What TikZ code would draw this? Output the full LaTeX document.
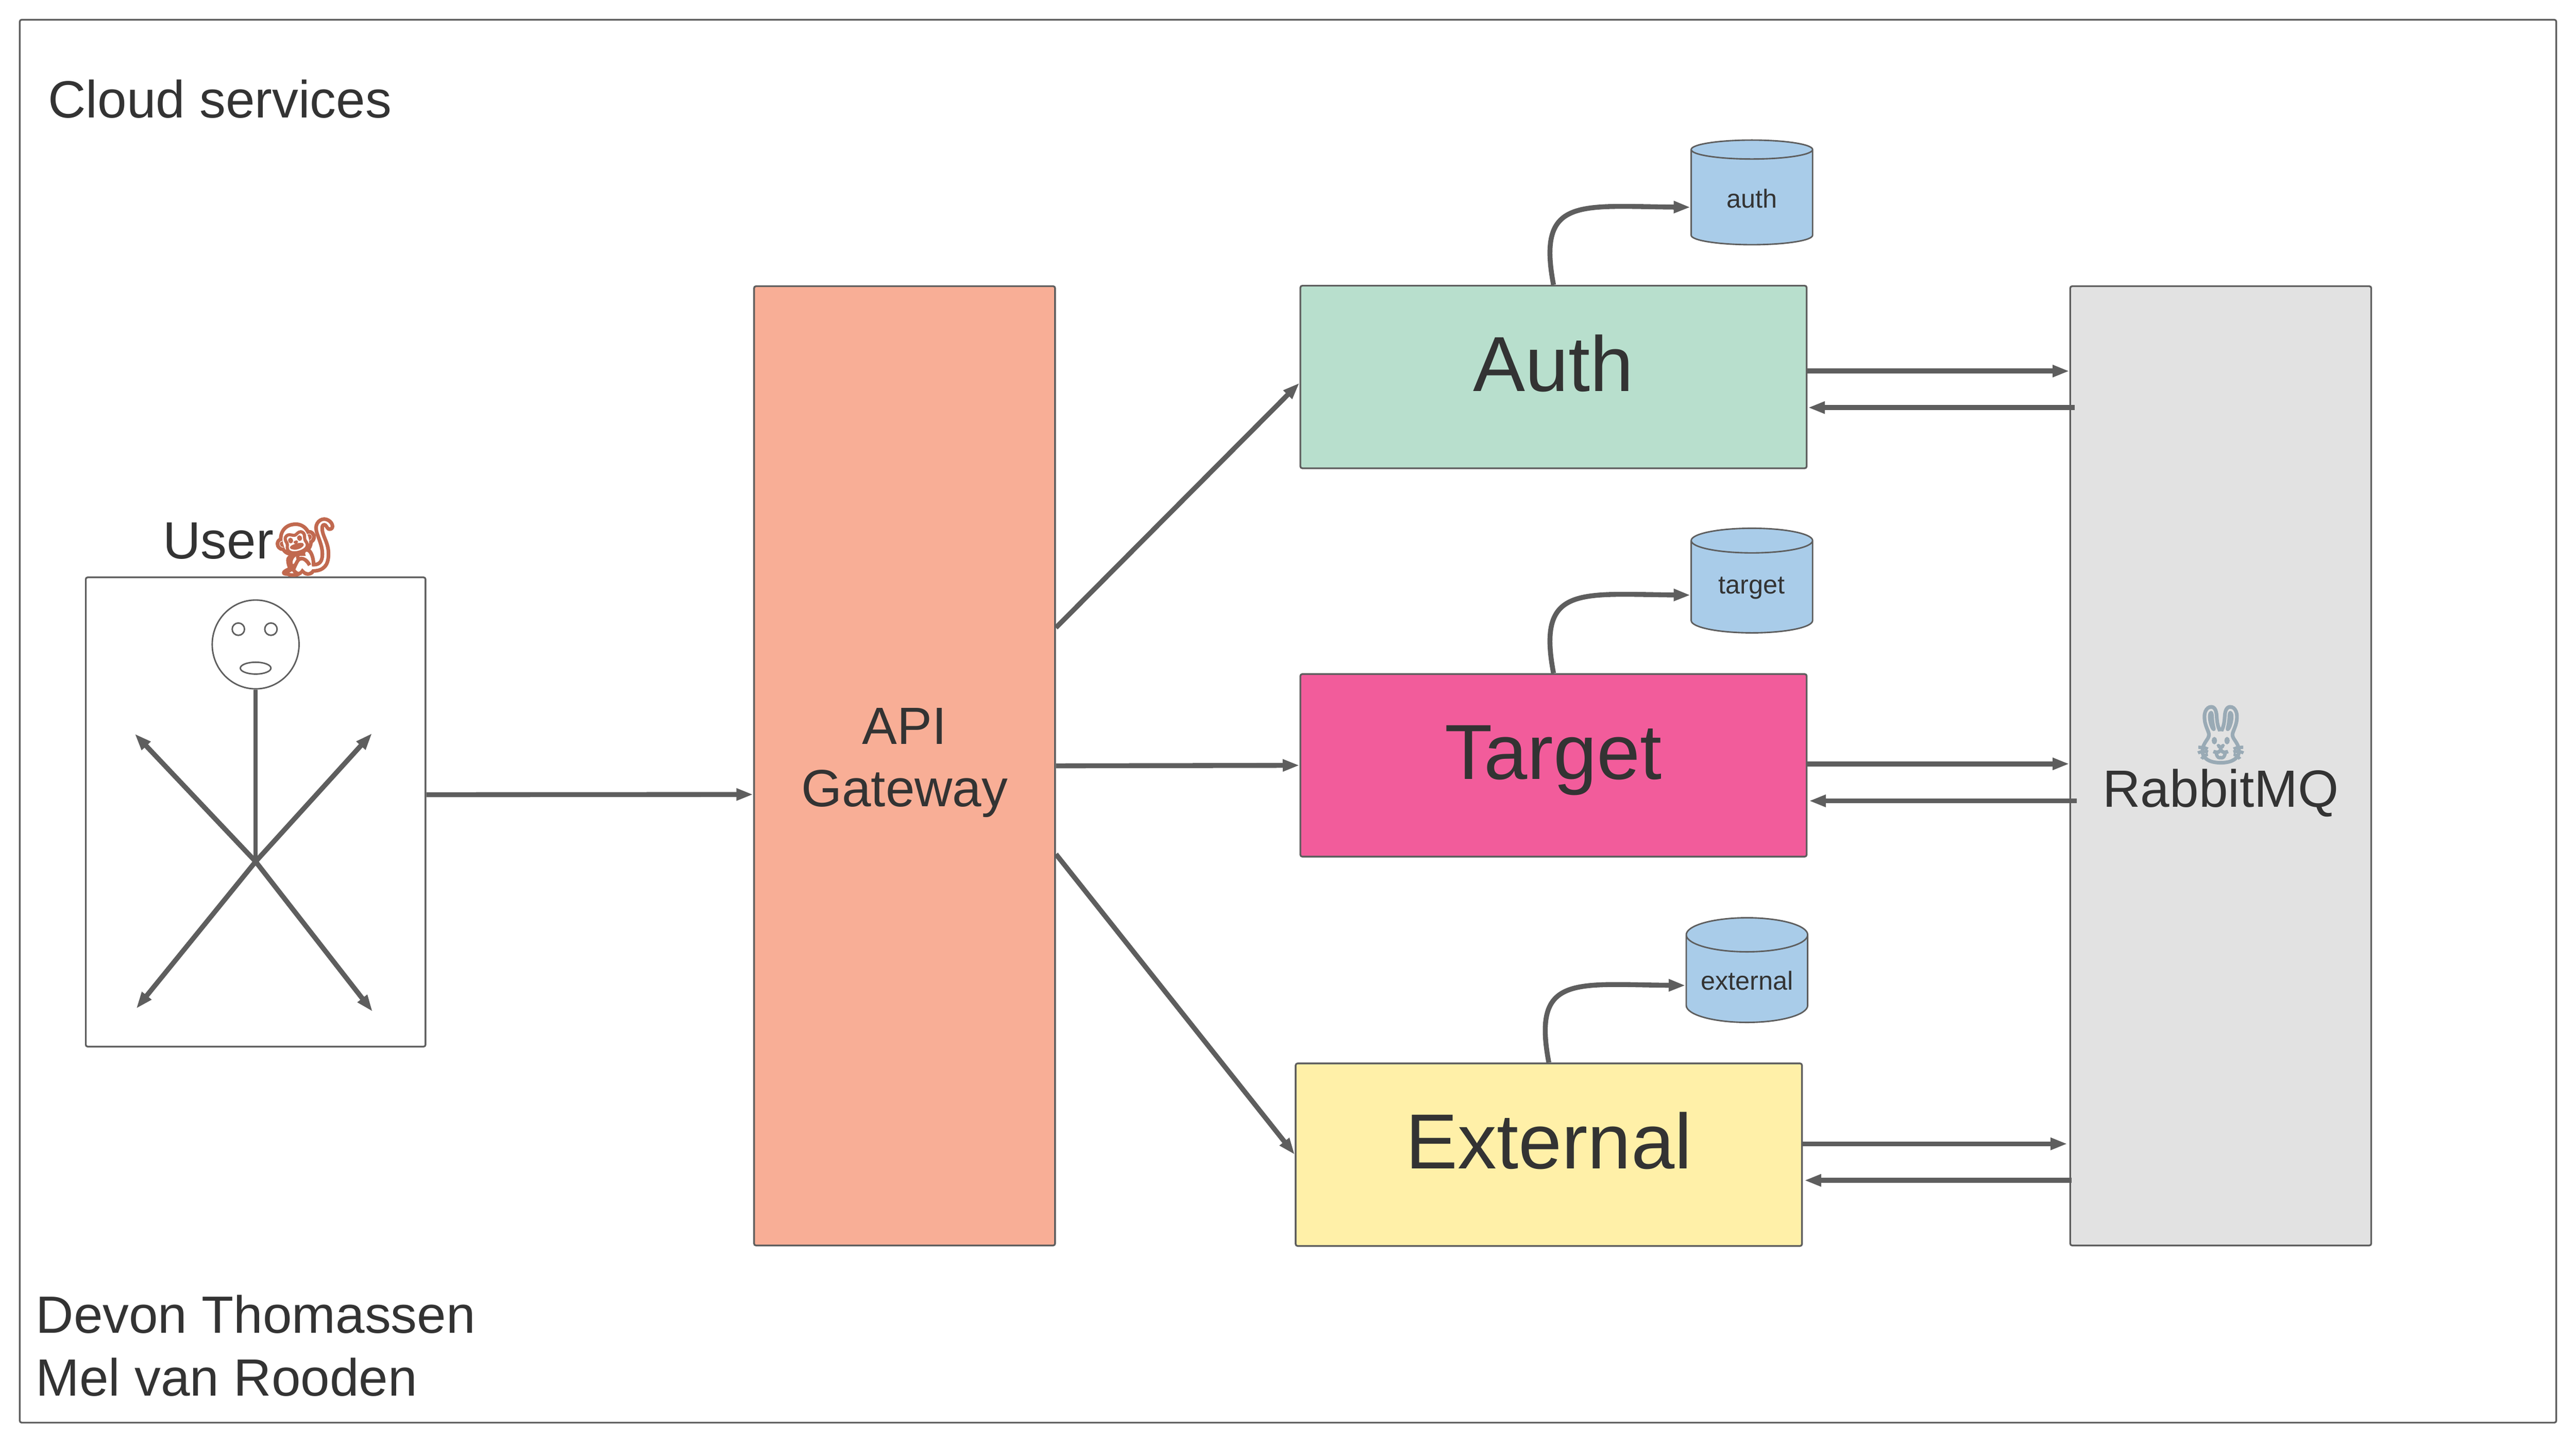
\documentclass[tikz,border=0pt]{standalone}
\usepackage{fontspec}
\setmainfont{Liberation Sans}
\newfontfamily\emojifont[FakeBold=2.5]{Noto Emoji}
\usetikzlibrary{positioning}
\usetikzlibrary{shapes.geometric}
\usetikzlibrary{arrows.meta}
\definecolor{edge}{HTML}{5E5E5E}
\definecolor{ink}{HTML}{333333}
\definecolor{storeblue}{HTML}{A9CCE9}
\definecolor{gatewayfill}{HTML}{F8AE96}
\definecolor{authfill}{HTML}{B8DFCD}
\definecolor{targetfill}{HTML}{F25C9B}
\definecolor{externalfill}{HTML}{FFF0A8}
\definecolor{brokerfill}{HTML}{E2E2E2}
\begin{document}
\begin{tikzpicture}
	[box/.style={rectangle, rounded corners=0.04cm, draw=edge, line width=0.035cm, text=ink, align=center},
	service/.style={box, minimum width=10.26cm, minimum height=3.7cm, font=\fontsize{45}{50}\selectfont, text height=1.15cm, text depth=0.58cm},
	column/.style={box, minimum width=6.1cm, minimum height=19.44cm, font=\fontsize{30.2}{36}\selectfont, text depth=0.35cm},
	store/.style={cylinder, shape border rotate=90, shape aspect=0.36, minimum height=2.12cm, minimum width=2.46cm, inner sep=0.02cm, draw=edge, line width=0.03cm, fill=storeblue, text=ink, font=\fontsize{15}{18}\selectfont},
	caption/.style={anchor=west, text=ink, align=left, inner sep=0pt, font=\fontsize{30.2}{36.4}\selectfont},
	face/.style={ellipse, draw=edge, line width=0.03cm, inner sep=0pt},
	flow/.style={-{Triangle[length=0.34cm,width=0.23cm]}, draw=edge, line width=0.1cm}]

\useasboundingbox (0,0) rectangle (52.2,29.24);
\node [box, minimum width=51.4cm, minimum height=28.43cm] (frame) at (26.1,14.625) {};
\node [caption] (cloud) at (0.97,27.23) {Cloud services};
\node [caption] (names) at (0.72,1.97) {Devon Thomassen\\Mel van Rooden};

\node [box, minimum width=6.885cm, minimum height=9.51cm] (user) at (5.18,12.785) {};
\node [above=0cm of user, xshift=-0.07cm, text=ink, inner sep=0pt, font=\fontsize{30.2}{36}\selectfont] (userlabel) {User\kern-0.1cm{\emojifont\fontsize{33}{36}\selectfont\raisebox{-0.16cm}{\textcolor[HTML]{C1694F}{🐒}}}};
\node [face, minimum width=1.76cm, minimum height=1.8cm] (head) at (5.18,16.18) {};
\node [face, minimum size=0.25cm] (lefteye) at (4.83,16.49) {};
\node [face, minimum size=0.25cm] (righteye) at (5.49,16.49) {};
\node [face, minimum width=0.62cm, minimum height=0.24cm] (mouth) at (5.18,15.70) {};
\coordinate (hub) at (5.18,11.78);
\coordinate (upperleft) at (2.73,14.37);
\coordinate (upperright) at (7.54,14.38);
\coordinate (lowerleft) at (2.76,8.80);
\coordinate (lowerright) at (7.55,8.74);

\node [column, fill=gatewayfill] (gateway) at (18.33,13.72) {API\\Gateway};
\node [service, fill=authfill] (auth) at (31.48,21.60) {Auth};
\node [service, fill=targetfill] (target) at (31.48,13.73) {Target};
\node [service, fill=externalfill] (external) at (31.385,5.84) {External};
\node [column, fill=brokerfill, text depth=0.55cm] (broker) at (45.0,13.72) {{\emojifont\fontsize{33}{36}\selectfont\raisebox{-0.2cm}[0.95cm][0pt]{\textcolor[HTML]{99AAB5}{🐰}}}\\RabbitMQ};

\node [store] (authdb) at (35.50,25.22) {auth};
\node [store] (targetdb) at (35.50,17.32) {target};
\node [store] (externaldb) at (35.40,9.37) {external};

\draw [draw=edge, line width=0.09cm] (head.south) -- (hub);
\draw [flow] (hub) -- (upperleft);
\draw [flow] (hub) -- (upperright);
\draw [flow] (hub) -- (lowerleft);
\draw [flow] (hub) -- (lowerright);

\draw [flow] ([yshift=3.5mm]user.east) -- ([yshift=-5.8mm]gateway.west);
\draw [flow] ([yshift=28mm]gateway.east) -- ([yshift=-1.2mm]auth.west);
\draw [flow] (gateway.east) -- (target.west);
\draw [flow] ([yshift=-17.9mm]gateway.east) -- (external.west);

\draw [flow] (auth.north) .. controls +(-0.34,1.79) and +(-2.25,0.02) .. ([yshift=-1.8mm]authdb.west);
\draw [flow] (target.north) .. controls +(-0.34,1.79) and +(-2.25,0.02) .. ([yshift=-1.4mm]targetdb.west);
\draw [flow] (external.north) .. controls +(-0.34,1.79) and +(-2.25,0.02) .. ([yshift=-1mm]externaldb.west);

\draw [flow] ([yshift=1.2mm]auth.east) -- ([yshift=1.2mm]auth.east -| broker.west);
\draw [flow] ([xshift=1.1mm,yshift=-6.2mm]auth.east -| broker.west) -- ([xshift=0.1mm,yshift=-6.2mm]auth.east);
\draw [flow] ([yshift=0.3mm]target.east) -- ([yshift=0.3mm]target.east -| broker.west);
\draw [flow] ([xshift=1.5mm,yshift=-7.2mm]target.east -| broker.west) -- ([xshift=0.3mm,yshift=-7.2mm]target.east);
\draw [flow] ([yshift=2.2mm]external.east) -- ([xshift=-0.4mm,yshift=2.2mm]external.east -| broker.west);
\draw [flow] ([xshift=0.5mm,yshift=-5.2mm]external.east -| broker.west) -- ([xshift=0.3mm,yshift=-5.2mm]external.east);

\end{tikzpicture}
\end{document}
